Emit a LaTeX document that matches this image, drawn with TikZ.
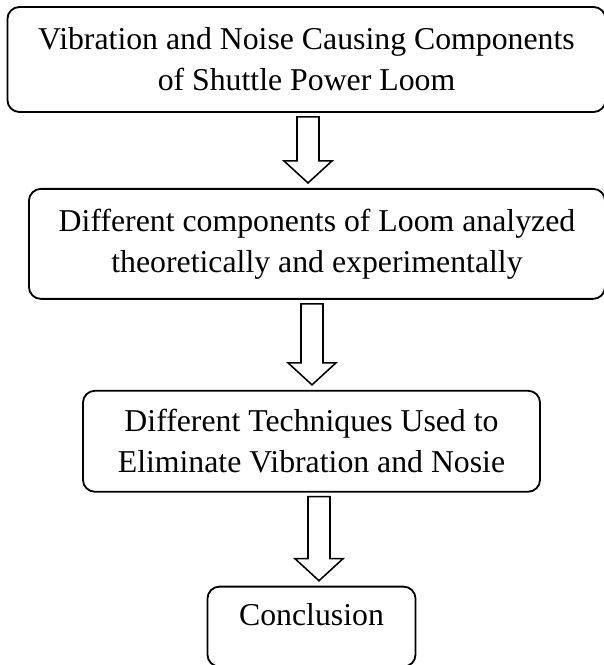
\documentclass[tikz,border=0pt]{standalone}
\usepackage{fontspec}
\setmainfont{Liberation Serif}
\usetikzlibrary{positioning,calc}
\tikzset{
  block/.style={rectangle, draw, rounded corners=0.3cm, line width=1.3pt, align=center, font=\fontsize{22.6}{29}\selectfont},
  hollow/.style={draw, line width=1.1pt, fill=white, line join=miter}
}
% hollow block arrow from the bottom of #2 to the top of #3, shifted by #1
\newcommand{\hollowarrow}[3][0]{%
  \coordinate (tail) at ($(#2.south)+(#1,-4)$);
  \coordinate (tip) at ($(tail |- #3.north)+(0,5)$);
  \draw[hollow] ($(tail)+(-11,0)$) -- ($(tip)+(-11,22)$) -- ($(tip)+(-24,22)$) -- (tip)
    -- ($(tip)+(24,22)$) -- ($(tip)+(11,22)$) -- ($(tail)+(11,0)$) -- cycle;
}

\begin{document}
\begin{tikzpicture}[x=0.025cm, y=0.025cm]
  \useasboundingbox (0,0) rectangle (604,-665);
  \node[block, minimum width=14.95cm, minimum height=2.625cm] (causes) at (306.5,-59.5)
    {Vibration and Noise Causing Components\\of Shuttle Power Loom};
  \node[block, minimum width=14.4cm, minimum height=2.75cm, below=1.875cm of causes, xshift=0.2625cm] (analysis)
    {Different components of Loom analyzed\\theoretically and experimentally};
  \node[block, minimum width=11.425cm, minimum height=2.525cm, below=2.25cm of analysis, xshift=-0.1375cm] (techniques)
    {Different Techniques Used to\\Eliminate Vibration and Nosie};
  \node[block, minimum width=5.2cm, minimum height=2cm, text depth=17pt, below=2.325cm of techniques] (conclusion)
    {Conclusion};
  \hollowarrow[1.5]{causes}{analysis}
  \hollowarrow[-5]{analysis}{techniques}
  \hollowarrow[7.5]{techniques}{conclusion}
\end{tikzpicture}
\end{document}
